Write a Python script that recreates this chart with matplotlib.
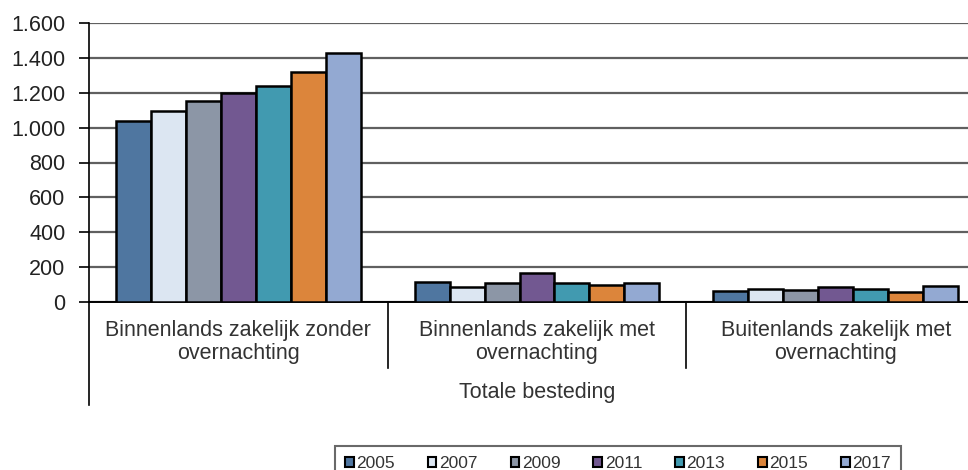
import matplotlib.pyplot as plt
from matplotlib.patches import Patch
from matplotlib.ticker import FuncFormatter
import numpy as np

plt.rcParams['font.family'] = ['Liberation Sans', 'DejaVu Sans']

# categorieen en bestedingen per jaar
categories = ['Binnenlands zakelijk zonder\novernachting',
              'Binnenlands zakelijk met\novernachting',
              'Buitenlands zakelijk met\novernachting']
years = ['2005', '2007', '2009', '2011', '2013', '2015', '2017']
v2005 = [1038, 115, 63]
v2007 = [1096, 88, 77]
v2009 = [1154, 108, 69]
v2011 = [1198, 168, 86]
v2013 = [1236, 108, 77]
v2015 = [1317, 98, 56]
v2017 = [1430, 108, 94]
group_label = 'Totale besteding'

series = [v2005, v2007, v2009, v2011, v2013, v2015, v2017]
colors = ['#4F76A0', '#DCE6F2', '#8C96A6', '#725891', '#419AB0', '#DC853B', '#93A9D2']

fig = plt.figure(figsize=(9.68, 4.70), dpi=100)
ax = fig.add_axes([89/968, 1-302/470, 896/968, 279/470])

x = np.arange(len(categories))
w = 0.117
for i, (vals, c) in enumerate(zip(series, colors)):
    ax.bar(x + (i - 3) * w, vals, w, color=c, edgecolor='black', linewidth=1.8, zorder=3)

ax.set_xlim(-0.5, 2.5)
ax.set_ylim(0, 1600)
ax.set_yticks(range(0, 1601, 200))
ax.yaxis.set_major_formatter(FuncFormatter(lambda v, p: f'{int(v):,}'.replace(',', '.')))
ax.tick_params(axis='y', labelsize=15.5, length=7, width=1.2, direction='out', pad=10,
               labelcolor='#222222')
ax.set_xticks([])
ax.grid(axis='y', color='#606060', linewidth=1.6, zorder=0)
for s in ['top', 'right']:
    ax.spines[s].set_visible(False)
ax.spines['bottom'].set_linewidth(1.4)
ax.spines['left'].set_linewidth(1.2)

# categorie-as met scheidingslijnen
ax.plot([-0.5, -0.5], [0, -0.369], transform=ax.get_xaxis_transform(),
        color='black', lw=1.2, clip_on=False)
for xs in [0.5, 1.5]:
    ax.plot([xs, xs], [0, -0.237], transform=ax.get_xaxis_transform(),
            color='black', lw=1.2, clip_on=False)
for xi, lab in zip(x, categories):
    ax.text(xi, -0.143, lab, transform=ax.get_xaxis_transform(), ha='center', va='center',
            fontsize=15.5, color='#333333', linespacing=1.1)
ax.text(1, -0.326, group_label, transform=ax.get_xaxis_transform(), ha='center', va='center',
        fontsize=15.5, color='#333333')

handles = [Patch(facecolor=c, edgecolor='black', linewidth=1.5) for c in colors]
leg = fig.legend(handles, years, loc='upper center', bbox_to_anchor=(618/968, 1-446/470),
                 ncol=7, fontsize=12.5, frameon=True, fancybox=False, edgecolor='#444444',
                 handlelength=0.5, handleheight=0.5, handletextpad=0.15, columnspacing=1.9,
                 borderpad=0.6, borderaxespad=0)
leg.get_frame().set_linewidth(1.5)
for t in leg.get_texts():
    t.set_color('#333333')

fig.savefig('out.png', dpi=100)
